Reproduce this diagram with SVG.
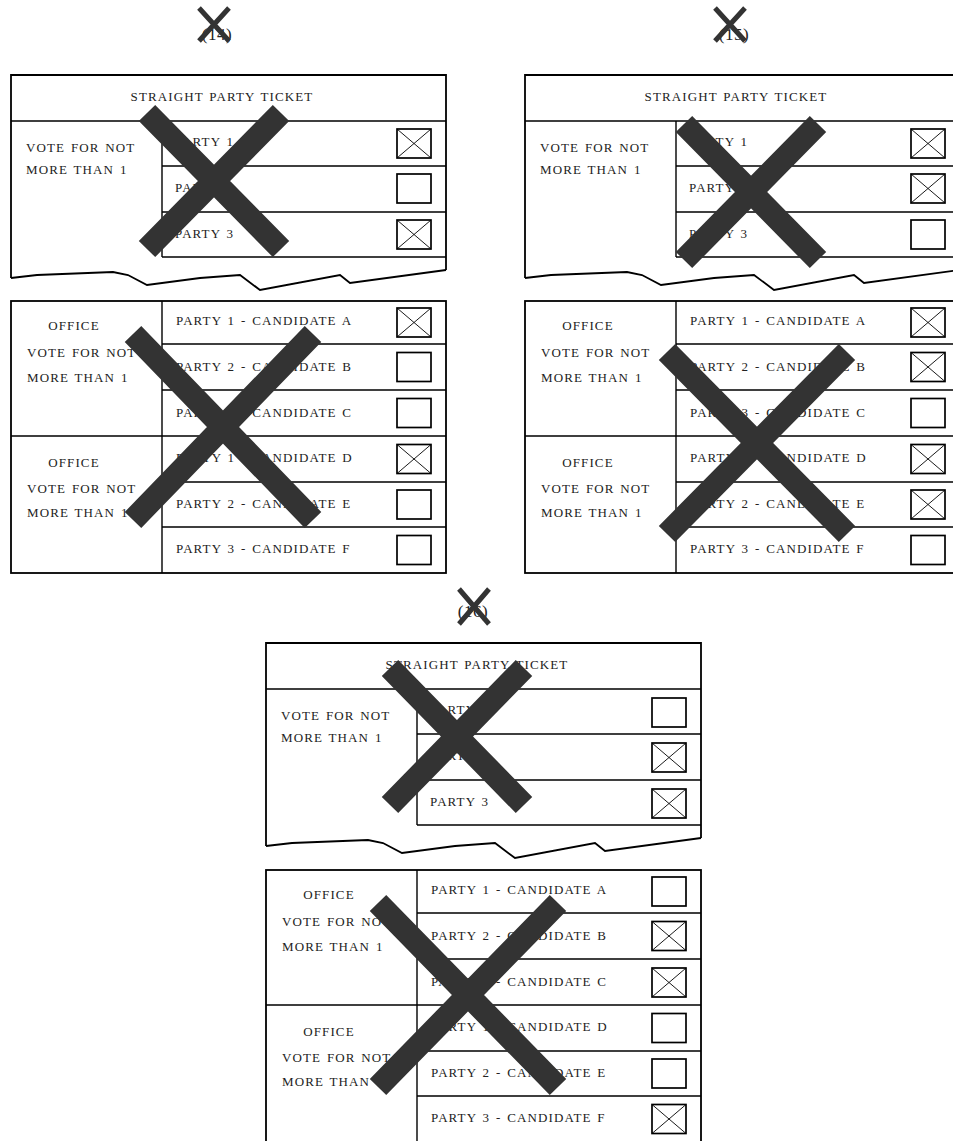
<svg xmlns="http://www.w3.org/2000/svg" xmlns:xlink="http://www.w3.org/1999/xlink" width="953" height="1141" viewBox="0 0 953 1141">
<style>
.ln{fill:none;stroke:#000;stroke-width:1.8}
.il{fill:none;stroke:#000;stroke-width:1.4}
.t{font-family:"Liberation Serif","Times New Roman",serif;font-size:13px;letter-spacing:1.1px;word-spacing:1.5px;fill:#222}
.c{text-anchor:middle}
.bx{fill:#fff;stroke:#000;stroke-width:1.7}
.bxx{fill:none;stroke:#000;stroke-width:0.9}
.big{fill:none;stroke:#333;stroke-width:23}
.sm{fill:none;stroke:#333;stroke-width:5}
.lbl{font-family:"Liberation Serif","Times New Roman",serif;font-size:17px;letter-spacing:0.5px;fill:#222;text-anchor:middle}
</style>
<defs>
<g id="box"><rect class="bx" x="0" y="0" width="34" height="29"/></g>
<g id="boxX"><rect class="bx" x="0" y="0" width="34" height="29"/><path class="bxx" d="M0,0L34,29M34,0L0,29"/></g>
<g id="topFrame">
<path class="ln" d="M0,203V0H435V195"/>
<path class="ln" d="M0,203L26,200L102,197L117,200L136,210L189,203L229,200L249,215L329,200L339,208L435,195"/>
<path class="il" d="M0,46H435M151,46V182M151,91H435M151,137H435M151,182H435"/>
<text class="t c" x="211" y="26">STRAIGHT PARTY TICKET</text>
<text class="t" x="15" y="77">VOTE FOR NOT</text>
<text class="t" x="15" y="99">MORE THAN 1</text>
<text class="t" x="164" y="71">PARTY 1</text>
<text class="t" x="164" y="117">PARTY 2</text>
<text class="t" x="164" y="163">PARTY 3</text>
</g>
<g id="lowFrame">
<rect class="ln" x="0" y="0" width="435" height="272"/>
<path class="il" d="M151,0V272M151,43H435M151,89H435M0,135H435M151,181H435M151,226H435"/>
<text class="t c" x="63" y="29">OFFICE</text>
<text class="t" x="16" y="56">VOTE FOR NOT</text>
<text class="t" x="16" y="81">MORE THAN 1</text>
<text class="t c" x="63" y="166">OFFICE</text>
<text class="t" x="16" y="192">VOTE FOR NOT</text>
<text class="t" x="16" y="216">MORE THAN 1</text>
<text class="t" x="165" y="24">PARTY 1 - CANDIDATE A</text>
<text class="t" x="165" y="70">PARTY 2 - CANDIDATE B</text>
<text class="t" x="165" y="116">PARTY 3 - CANDIDATE C</text>
<text class="t" x="165" y="161">PARTY 1 - CANDIDATE D</text>
<text class="t" x="165" y="207">PARTY 2 - CANDIDATE E</text>
<text class="t" x="165" y="252">PARTY 3 - CANDIDATE F</text>
</g>
</defs>
<rect x="0" y="0" width="953" height="1141" fill="#fff"/>

<g id="ballot14">
<g id="b14-label">
<text class="lbl" x="217" y="40">(14)</text>
<path class="sm" d="M199,8L229,41M229,8L199,41"/>
</g>
<g id="b14-top" transform="translate(11,75)">
<use xlink:href="#topFrame"/>
<use xlink:href="#boxX" x="386" y="54"/>
<use xlink:href="#box" x="386" y="99"/>
<use xlink:href="#boxX" x="386" y="145"/>
</g>
<g id="b14-low" transform="translate(11,301)">
<use xlink:href="#lowFrame"/>
<use xlink:href="#boxX" x="386" y="7"/>
<use xlink:href="#box" x="386" y="51.5"/>
<use xlink:href="#box" x="386" y="97.5"/>
<use xlink:href="#boxX" x="386" y="143.5"/>
<use xlink:href="#box" x="386" y="189"/>
<use xlink:href="#box" x="386" y="234.5"/>
</g>
<path class="big" d="M147,113L281,249M281,113L147,249"/>
<path class="big" d="M133,334L313,520M313,334L133,520"/>
</g>

<g id="ballot15">
<g id="b15-label">
<text class="lbl" x="734" y="40">(15)</text>
<path class="sm" d="M715,8L745,41M745,8L715,41"/>
</g>
<g id="b15-top" transform="translate(525,75)">
<use xlink:href="#topFrame"/>
<use xlink:href="#boxX" x="386" y="54"/>
<use xlink:href="#boxX" x="386" y="99"/>
<use xlink:href="#box" x="386" y="145"/>
</g>
<g id="b15-low" transform="translate(525,301)">
<use xlink:href="#lowFrame"/>
<use xlink:href="#boxX" x="386" y="7"/>
<use xlink:href="#boxX" x="386" y="51.5"/>
<use xlink:href="#box" x="386" y="97.5"/>
<use xlink:href="#boxX" x="386" y="143.5"/>
<use xlink:href="#boxX" x="386" y="189"/>
<use xlink:href="#box" x="386" y="234.5"/>
</g>
<path class="big" d="M684,124L818,260M818,124L684,260"/>
<path class="big" d="M667,352L847,534M847,352L667,534"/>
</g>

<g id="ballot16">
<g id="b16-label">
<text class="lbl" x="473" y="617">(16)</text>
<path class="sm" d="M459,589L489,624M489,589L459,624"/>
</g>
<g id="b16-top" transform="translate(266,643)">
<use xlink:href="#topFrame"/>
<use xlink:href="#box" x="386" y="55"/>
<use xlink:href="#boxX" x="386" y="100"/>
<use xlink:href="#boxX" x="386" y="146"/>
</g>
<g id="b16-low" transform="translate(266,870)">
<use xlink:href="#lowFrame"/>
<use xlink:href="#box" x="386" y="7"/>
<use xlink:href="#boxX" x="386" y="51.5"/>
<use xlink:href="#boxX" x="386" y="98"/>
<use xlink:href="#box" x="386" y="143.5"/>
<use xlink:href="#box" x="386" y="189"/>
<use xlink:href="#boxX" x="386" y="234.5"/>
</g>
<path class="big" d="M390,668L524,805M524,668L390,805"/>
<path class="big" d="M378,903L558,1087M558,903L378,1087"/>
</g>
</svg>
